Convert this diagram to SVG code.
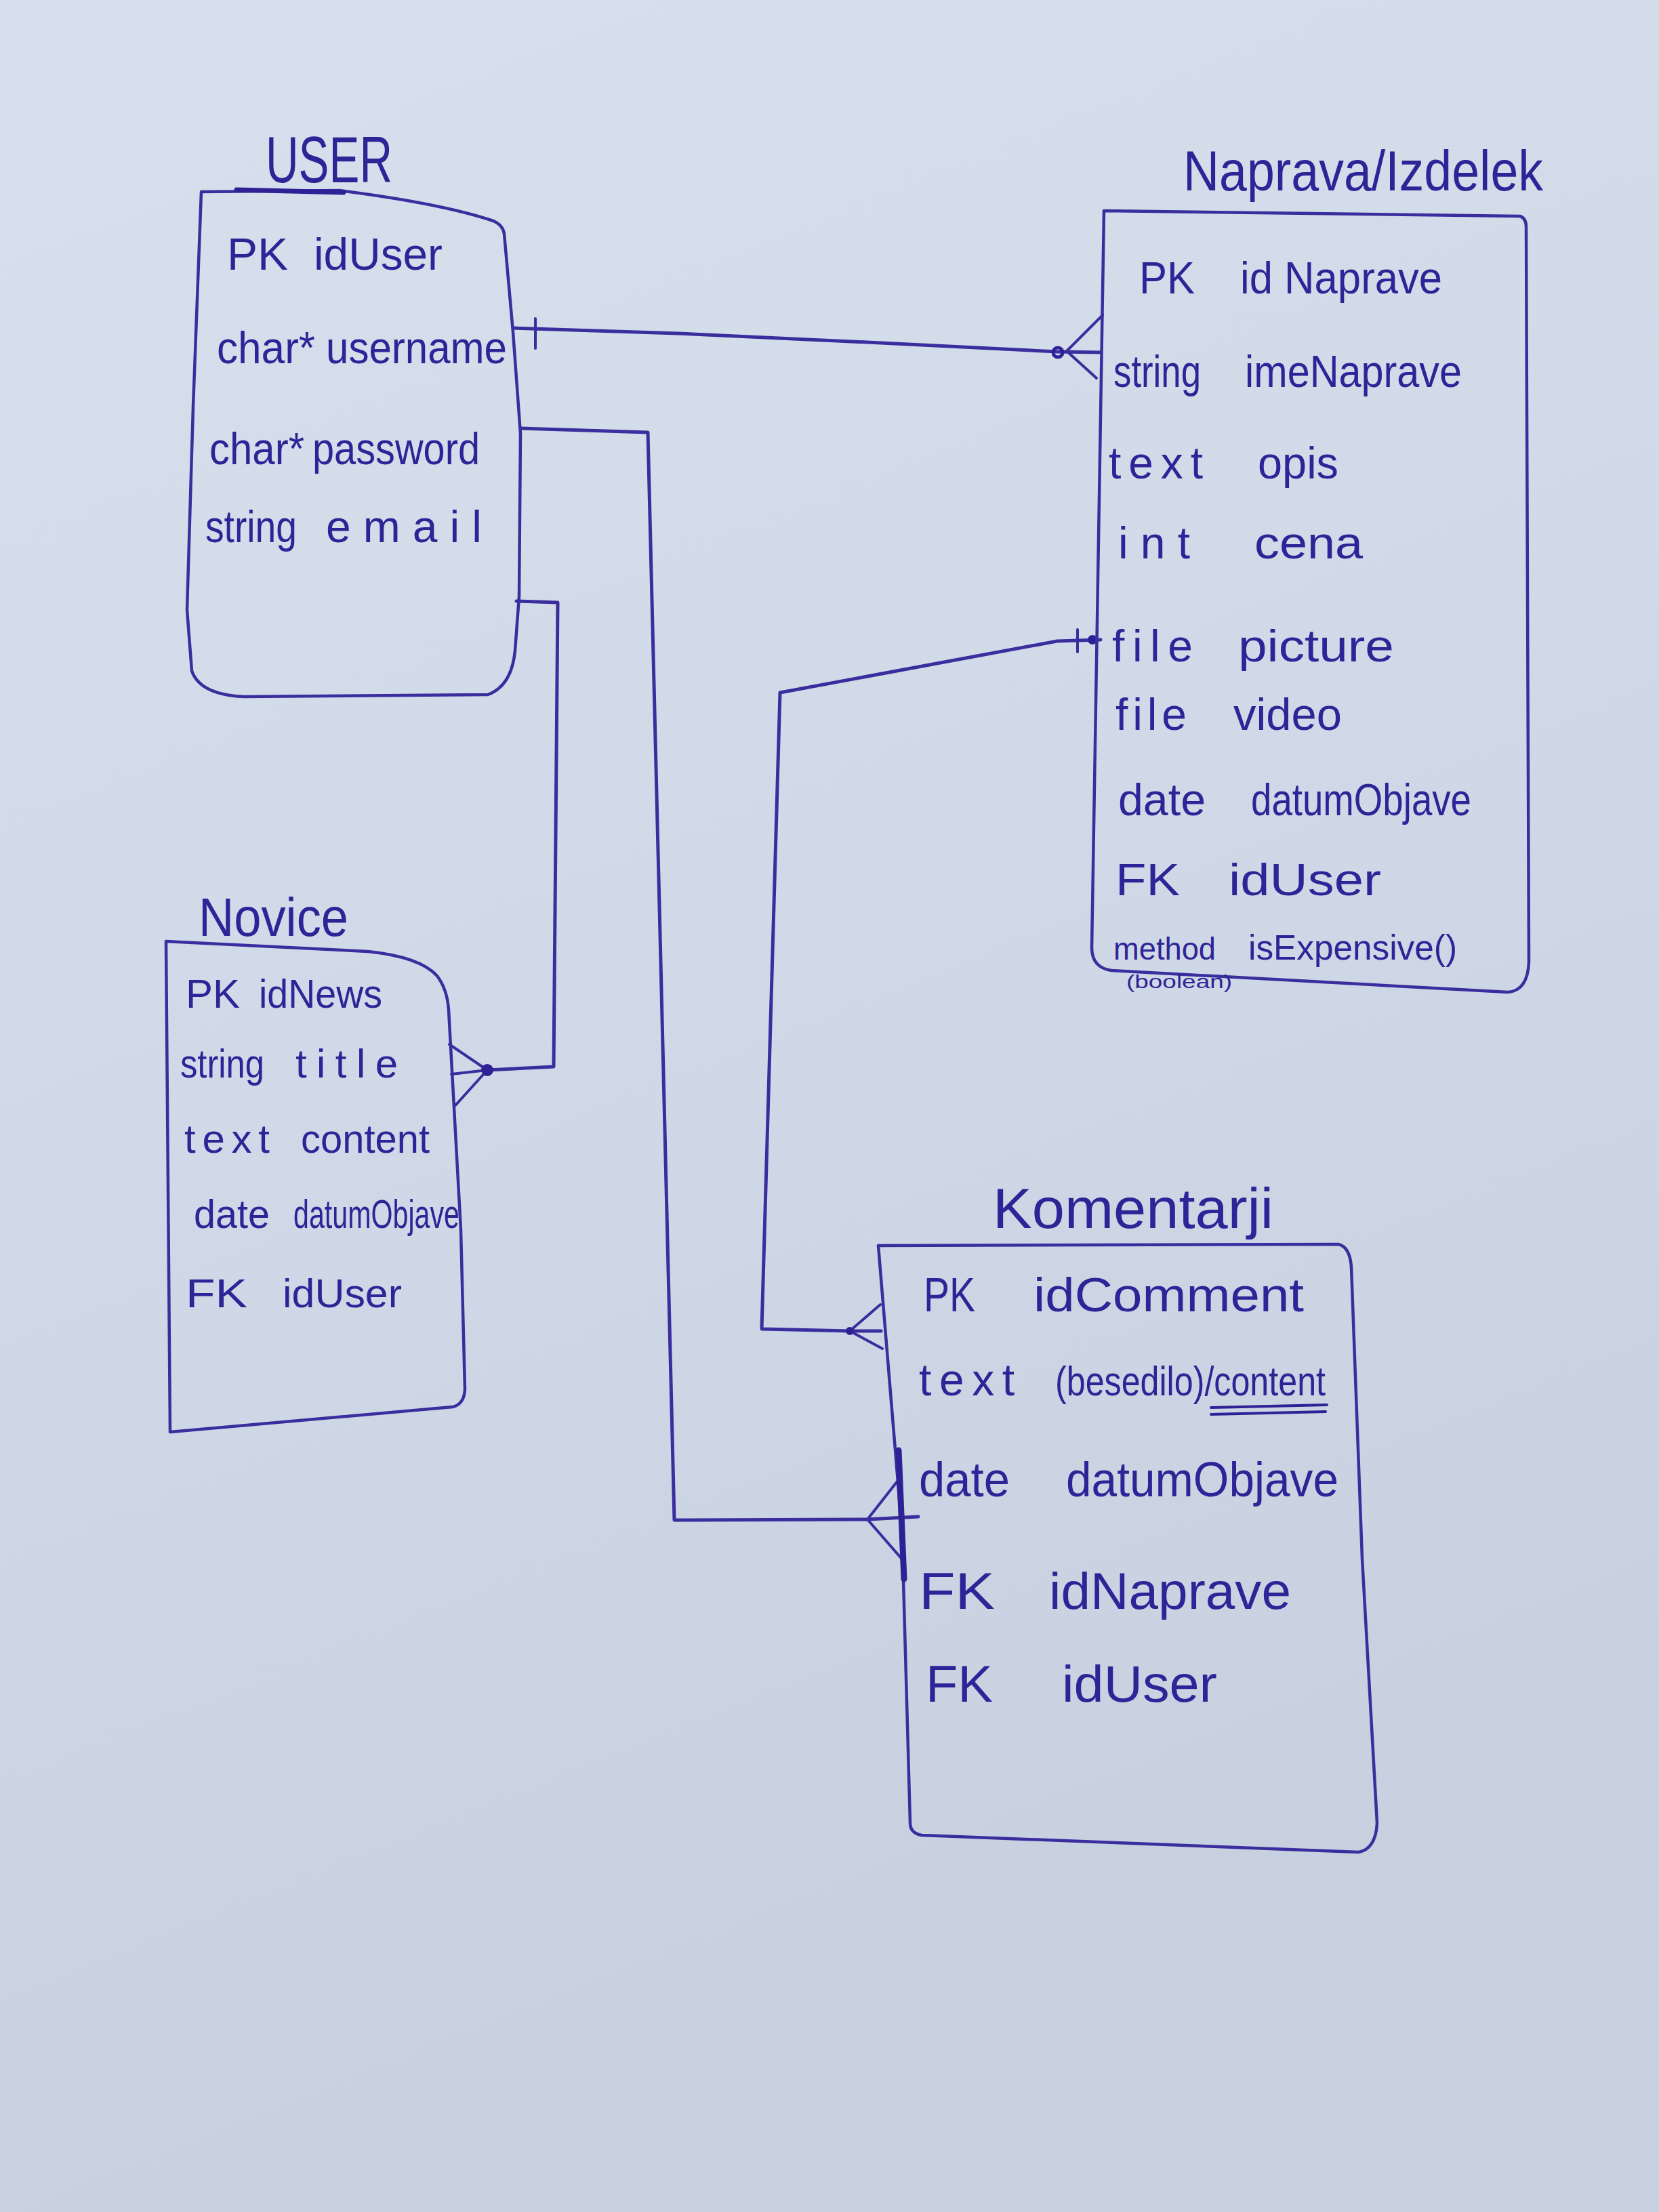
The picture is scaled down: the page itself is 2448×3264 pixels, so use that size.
<svg xmlns="http://www.w3.org/2000/svg" width="2448" height="3264" viewBox="0 0 2448 3264">
<defs>
<linearGradient id="paper" x1="0" y1="0" x2="0.3" y2="1">
<stop offset="0" stop-color="#d7e0ec"/>
<stop offset="0.5" stop-color="#d0d9e7"/>
<stop offset="1" stop-color="#c6d0df"/>
</linearGradient>
<style>
.box{fill:none;stroke:#3a2d9e;stroke-width:4.5;stroke-linejoin:round;stroke-linecap:round}
.conn{fill:none;stroke:#3a2d9e;stroke-width:5;stroke-linejoin:round;stroke-linecap:round}
.foot{fill:none;stroke:#3a2d9e;stroke-width:4;stroke-linecap:round}
.dot{fill:#2e2196;stroke:#2e2196;stroke-width:2}
.t{font-family:"Liberation Sans",Arial,sans-serif;fill:#2f2398}
.title{font-size:84px}
.ur{font-size:66px}
.nr{font-size:66px}
.vr{font-size:60px}
</style>
</defs>
<rect x="0" y="0" width="2448" height="3264" fill="url(#paper)"/>

<g id="connectors">
<path class="conn" d="M757,484 L1000,492 L1300,506 L1560,519 L1624,520"/>
<line class="foot" x1="790" y1="470" x2="790" y2="514"/>
<line class="foot" x1="1574" y1="518" x2="1627" y2="465"/>
<line class="foot" x1="1574" y1="518" x2="1618" y2="558"/>
<circle cx="1561" cy="520" r="7" fill="none" stroke="#2e2196" stroke-width="5"/>

<path class="conn" d="M768,632 L956,638 L995,2243 L1280,2242 L1355,2238"/>
<line class="foot" x1="1280" y1="2242" x2="1327" y2="2182"/>
<line class="foot" x1="1280" y1="2242" x2="1333" y2="2303"/>

<path class="conn" d="M762,887 L823,889 L817,1574 L719,1579"/>
<line class="foot" x1="719" y1="1579" x2="663" y2="1541"/>
<line class="foot" x1="719" y1="1579" x2="666" y2="1585"/>
<line class="foot" x1="719" y1="1579" x2="672" y2="1631"/>
<circle class="dot" cx="719" cy="1579" r="8"/>

<path class="conn" d="M1624,944 L1560,946 L1350,985 L1151,1022 L1124,1961 L1254,1964 L1300,1964"/>
<line class="foot" x1="1590" y1="929" x2="1590" y2="962"/>
<circle class="dot" cx="1612" cy="944" r="6"/>
<line class="foot" x1="1254" y1="1964" x2="1299" y2="1925"/>
<line class="foot" x1="1254" y1="1964" x2="1302" y2="1990"/>
<circle class="dot" cx="1254" cy="1964" r="5"/>
</g>

<g id="user">
<path class="box" d="M297,283 L500,281 Q650,300 728,326 Q742,332 744,345 L757,490 L768,640 L766,880 L760,960 Q755,1012 720,1025 L360,1028 Q295,1025 283,990 L276,900 L285,600 Z"/>
<path d="M349,280 L507,284" stroke="#2e2196" stroke-width="7" fill="none" stroke-linecap="round"/>
<text class="t" x="392" y="269" font-size="96" textLength="187" lengthAdjust="spacingAndGlyphs">USER</text>
<text class="t ur" x="335" y="398" textLength="90" lengthAdjust="spacingAndGlyphs">PK</text>
<text class="t ur" x="463" y="398" textLength="190" lengthAdjust="spacingAndGlyphs">idUser</text>
<text class="t ur" x="320" y="536" textLength="145" lengthAdjust="spacingAndGlyphs">char*</text>
<text class="t ur" x="481" y="536" textLength="267" lengthAdjust="spacingAndGlyphs">username</text>
<text class="t ur" x="309" y="685" textLength="140" lengthAdjust="spacingAndGlyphs">char*</text>
<text class="t ur" x="461" y="685" textLength="247" lengthAdjust="spacingAndGlyphs">password</text>
<text class="t ur" x="303" y="800" textLength="135" lengthAdjust="spacingAndGlyphs">string</text>
<text class="t ur" x="481" y="800" textLength="230" lengthAdjust="spacing">email</text>
</g>

<g id="naprava">
<path class="box" d="M1629,311 L2243,319 Q2252,322 2252,335 L2256,1420 Q2254,1462 2225,1464 L1640,1432 Q1612,1428 1611,1400 Z"/>
<text class="t title" x="1746" y="281" textLength="531" lengthAdjust="spacingAndGlyphs">Naprava/Izdelek</text>
<text class="t nr" x="1681" y="433" textLength="82" lengthAdjust="spacingAndGlyphs">PK</text>
<text class="t nr" x="1830" y="433" textLength="298" lengthAdjust="spacingAndGlyphs">id Naprave</text>
<text class="t nr" x="1643" y="571" textLength="129" lengthAdjust="spacingAndGlyphs">string</text>
<text class="t nr" x="1837" y="571" textLength="320" lengthAdjust="spacingAndGlyphs">imeNaprave</text>
<text class="t nr" x="1636" y="706" textLength="139" lengthAdjust="spacing">text</text>
<text class="t nr" x="1856" y="706" textLength="119" lengthAdjust="spacingAndGlyphs">opis</text>
<text class="t nr" x="1650" y="824" textLength="106" lengthAdjust="spacing">int</text>
<text class="t nr" x="1851" y="824" textLength="160" lengthAdjust="spacingAndGlyphs">cena</text>
<text class="t nr" x="1641" y="976" textLength="119" lengthAdjust="spacing">file</text>
<text class="t nr" x="1827" y="976" textLength="230" lengthAdjust="spacingAndGlyphs">picture</text>
<text class="t nr" x="1646" y="1077" textLength="105" lengthAdjust="spacing">file</text>
<text class="t nr" x="1820" y="1077" textLength="160" lengthAdjust="spacingAndGlyphs">video</text>
<text class="t nr" x="1650" y="1203" textLength="129" lengthAdjust="spacingAndGlyphs">date</text>
<text class="t nr" x="1846" y="1203" textLength="325" lengthAdjust="spacingAndGlyphs">datumObjave</text>
<text class="t nr" x="1646" y="1321" textLength="95" lengthAdjust="spacingAndGlyphs">FK</text>
<text class="t nr" x="1813" y="1321" textLength="225" lengthAdjust="spacingAndGlyphs">idUser</text>
<text class="t" x="1643" y="1416" font-size="46" textLength="151" lengthAdjust="spacingAndGlyphs">method</text>
<text class="t" x="1842" y="1416" font-size="52" textLength="308" lengthAdjust="spacingAndGlyphs">isExpensive()</text>
<text class="t" x="1662" y="1458" font-size="28" textLength="156" lengthAdjust="spacingAndGlyphs">(boolean)</text>
</g>

<g id="novice">
<path class="box" d="M245,1389 L543,1404 Q620,1412 645,1440 Q660,1460 662,1490 L680,1815 L686,2050 Q685,2072 668,2076 L251,2113 Z"/>
<text class="t" x="293" y="1381" font-size="80" textLength="221" lengthAdjust="spacingAndGlyphs">Novice</text>
<text class="t vr" x="274" y="1487" textLength="80" lengthAdjust="spacingAndGlyphs">PK</text>
<text class="t vr" x="382" y="1487" textLength="182" lengthAdjust="spacingAndGlyphs">idNews</text>
<text class="t vr" x="266" y="1590" textLength="124" lengthAdjust="spacingAndGlyphs">string</text>
<text class="t vr" x="436" y="1590" textLength="151" lengthAdjust="spacing">title</text>
<text class="t vr" x="272" y="1701" textLength="126" lengthAdjust="spacing">text</text>
<text class="t vr" x="444" y="1701" textLength="190" lengthAdjust="spacingAndGlyphs">content</text>
<text class="t vr" x="286" y="1812" textLength="112" lengthAdjust="spacingAndGlyphs">date</text>
<text class="t vr" x="433" y="1812" textLength="245" lengthAdjust="spacingAndGlyphs">datumObjave</text>
<text class="t vr" x="274" y="1929" textLength="91" lengthAdjust="spacingAndGlyphs">FK</text>
<text class="t vr" x="417" y="1929" textLength="176" lengthAdjust="spacingAndGlyphs">idUser</text>
</g>

<g id="komentarji">
<path class="box" d="M1296,1838 L1975,1836 Q1992,1840 1994,1870 L2010,2300 L2032,2690 Q2030,2728 2005,2733 L1360,2708 Q1343,2705 1343,2690 L1331,2260 Z"/>
<path d="M1326,2140 L1334,2330" stroke="#2e2196" stroke-width="9" fill="none" stroke-linecap="round"/>
<text class="t title" x="1465" y="1812" textLength="414" lengthAdjust="spacingAndGlyphs">Komentarji</text>
<text class="t" x="1363" y="1935" font-size="70" textLength="76" lengthAdjust="spacingAndGlyphs">PK</text>
<text class="t" x="1525" y="1935" font-size="70" textLength="399" lengthAdjust="spacingAndGlyphs">idComment</text>
<text class="t" x="1356" y="2059" font-size="66" textLength="141" lengthAdjust="spacing">text</text>
<text class="t" x="1557" y="2059" font-size="62" textLength="399" lengthAdjust="spacingAndGlyphs">(besedilo)/content</text>
<path d="M1787,2077 L1958,2073 M1787,2087 L1956,2083" stroke="#2e2196" stroke-width="4" fill="none" stroke-linecap="round"/>
<text class="t" x="1356" y="2208" font-size="72" textLength="134" lengthAdjust="spacingAndGlyphs">date</text>
<text class="t" x="1573" y="2208" font-size="72" textLength="402" lengthAdjust="spacingAndGlyphs">datumObjave</text>
<text class="t" x="1356" y="2374" font-size="76" textLength="112" lengthAdjust="spacingAndGlyphs">FK</text>
<text class="t" x="1548" y="2374" font-size="76" textLength="357" lengthAdjust="spacingAndGlyphs">idNaprave</text>
<text class="t" x="1366" y="2511" font-size="76" textLength="99" lengthAdjust="spacingAndGlyphs">FK</text>
<text class="t" x="1567" y="2511" font-size="76" textLength="229" lengthAdjust="spacingAndGlyphs">idUser</text>
</g>
</svg>
